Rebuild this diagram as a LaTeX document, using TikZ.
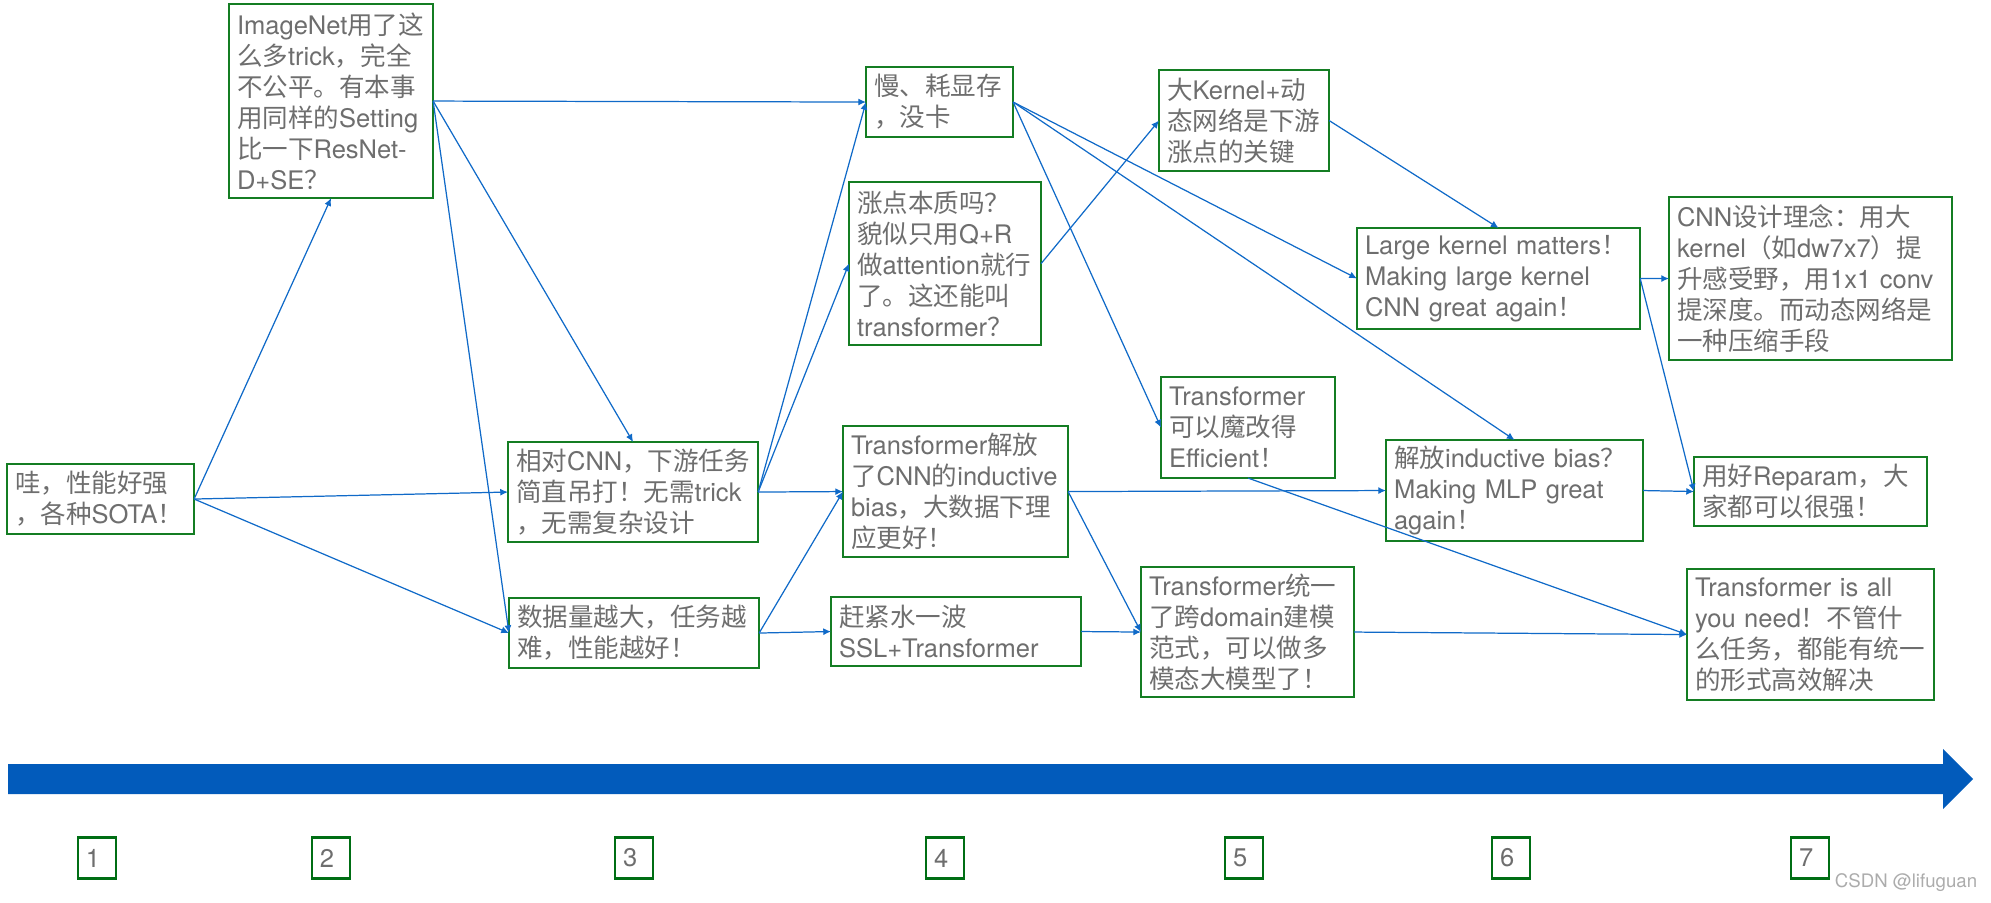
\documentclass[tikz,border=0pt]{standalone}
\usepackage{fontspec}
\setmainfont{TeX Gyre Heros}
\newfontfamily\latinfont{TeX Gyre Heros}
\newfontfamily\cjkfont{Noto Sans CJK SC}
\usetikzlibrary{arrows.meta}

\definecolor{linkblue}{RGB}{16,106,200}
\definecolor{boxgreen}{RGB}{20,125,35}
\definecolor{stagegreen}{RGB}{0,110,20}
\definecolor{txtgray}{RGB}{110,110,110}
\definecolor{barblue}{RGB}{2,91,187}

% Chinese characters and full-width punctuation go to the CJK font
\XeTeXinterchartokenstate=1
\newXeTeXintercharclass\cjkclass
\newcount\cjkchar
\def\cjkrange#1#2{%
  \cjkchar=#1\relax
  \loop
    \XeTeXcharclass\cjkchar=\cjkclass
    \ifnum\cjkchar<#2\relax
    \advance\cjkchar by 1
  \repeat}
\cjkrange{"3000}{"303F}
\cjkrange{"4E00}{"9FFF}
\cjkrange{"FF00}{"FFEF}
\XeTeXinterchartoks 0 \cjkclass = {\cjkfont}
\XeTeXinterchartoks 4095 \cjkclass = {\cjkfont}
\XeTeXinterchartoks \cjkclass 0 = {\latinfont}
\XeTeXinterchartoks \cjkclass 4095 = {\latinfont}

\def\ideafont{\fontsize{7.26}{8.82}\selectfont\hyphenpenalty 10000\relax}

\begin{document}
\begin{tikzpicture}[x=0.01cm, y=-0.01cm,
  idea/.style={draw=boxgreen, line width=0.4pt, text=txtgray, anchor=north west,
    align=left, inner xsep=0.08cm, inner ysep=0pt, outer sep=0pt,
    font=\ideafont},
  link/.style={draw=linkblue, line width=0.35pt, -{Latex[length=2.2pt,width=2pt]}},
  stage/.style={draw=stagegreen, line width=0.75pt, text=txtgray, align=left,
    text width=0.22cm, inner xsep=0.08cm, inner ysep=0pt, minimum height=0.41cm,
    font=\ideafont}]

  \useasboundingbox (0,0) rectangle (1991,902);

  % ----------------------------------------------------------------
  % time line
  % ----------------------------------------------------------------
  \fill[barblue] (8,764) -- (1943,764) -- (1943,749) -- (1973,779)
    -- (1943,809) -- (1943,794) -- (8,794) -- cycle;

  \foreach \n/\x in {1/97, 2/331, 3/634, 4/945, 5/1244, 6/1511, 7/1810}{
    \node[stage] (stage\n) at (\x,858) {\n};
  }

  \node[text=gray!65, font=\fontsize{5.3}{6}\selectfont, inner sep=0pt] (mark)
    at (1906,883) {CSDN @lifuguan};

  % ----------------------------------------------------------------
  % ideas (stage 1 to 3)
  % ----------------------------------------------------------------
  \node[idea, text width=1.71cm, minimum height=0.70cm] (wow) at (7,464)
    {哇，性能好强\\，各种SOTA！};
  \node[idea, text width=1.88cm, minimum height=1.94cm] (imgnet) at (229,4)
    {ImageNet用了这\\么多trick，完全\\不公平。有本事\\用同样的Setting\\比一下ResNet-\\D+SE？};
  \node[idea, text width=2.34cm, minimum height=1.00cm] (cnnrel) at (508,442)
    {相对CNN，下游任务\\简直吊打！无需trick\\，无需复杂设计};
  \node[idea, text width=2.34cm, minimum height=0.70cm] (data) at (509,598)
    {数据量越大，任务越\\难，性能越好！};

  % ----------------------------------------------------------------
  % ideas (stage 4 and 5)
  % ----------------------------------------------------------------
  \node[idea, text width=1.31cm, minimum height=0.70cm] (slow) at (866,67)
    {慢、耗显存\\，没卡};
  \node[idea, text width=1.76cm, minimum height=1.63cm] (gain) at (849,182)
    {涨点本质吗？\\貌似只用Q+R\\做attention就行\\了。这还能叫\\transformer？};
  \node[idea, text width=2.09cm, minimum height=1.31cm] (freecnn) at (843,426)
    {Transformer解放\\了CNN的inductive\\bias，大数据下理\\应更好！};
  \node[idea, text width=2.34cm, minimum height=0.69cm] (ssl) at (831,597)
    {赶紧水一波\\SSL+Transformer};
  \node[idea, text width=1.54cm, minimum height=1.01cm] (kernel) at (1159,70)
    {大Kernel+动\\态网络是下游\\涨点的关键};
  \node[idea, text width=1.58cm, minimum height=1.01cm] (effic) at (1161,377)
    {Transformer\\可以魔改得\\Efficient！};
  \node[idea, text width=1.97cm, minimum height=1.30cm] (unify) at (1141,567)
    {Transformer统一\\了跨domain建模\\范式，可以做多\\模态大模型了！};

  % ----------------------------------------------------------------
  % ideas (stage 6 and 7)
  % ----------------------------------------------------------------
  \node[idea, text width=2.67cm, minimum height=1.01cm] (large) at (1357,228)
    {Large kernel matters！\\Making large kernel\\CNN great again！};
  \node[idea, text width=2.41cm, minimum height=1.01cm] (mlp) at (1386,440)
    {解放inductive bias？\\Making MLP great\\again！};
  \node[idea, text width=2.67cm, minimum height=1.63cm] (cnnidea) at (1669,197)
    {CNN设计理念：用大\\kernel（如dw7x7）提\\升感受野，用1x1 conv\\提深度。而动态网络是\\一种压缩手段};
  \node[idea, text width=2.17cm, minimum height=0.69cm] (reparam) at (1694,457)
    {用好Reparam，大\\家都可以很强！};
  \node[idea, text width=2.31cm, minimum height=1.31cm] (allneed) at (1687,569)
    {Transformer is all\\you need！不管什\\么任务，都能有统一\\的形式高效解决};

  % ----------------------------------------------------------------
  % links
  % ----------------------------------------------------------------
  \draw[link] (wow.east) -- (imgnet.south);
  \draw[link] (wow.east) -- (cnnrel.west);
  \draw[link] (wow.east) -- (data.west);

  \draw[link] (imgnet.east) -- (slow.west);
  \draw[link] (imgnet.east) -- (cnnrel.north);
  \draw[link] (imgnet.east) -- (data.west);

  \draw[link] (cnnrel.east) -- (slow.west);
  \draw[link] (cnnrel.east) -- (gain.west);
  \draw[link] (cnnrel.east) -- (freecnn.west);
  \draw[link] (data.east) -- (freecnn.west);
  \draw[link] (data.east) -- (ssl.west);

  \draw[link] (slow.east) -- (effic.west);
  \draw[link] (slow.east) -- (large.west);
  \draw[link] (slow.east) -- (mlp.north);
  \draw[link] (gain.east) -- (kernel.west);
  \draw[link] (kernel.east) -- (large.north);
  \draw[link] (freecnn.east) -- (mlp.west);
  \draw[link] (freecnn.east) -- (unify.west);
  \draw[link] (ssl.east) -- (unify.west);

  \draw[link] (effic.south) -- (allneed.west);
  \draw[link] (unify.east) -- (allneed.west);
  \draw[link] (large.east) -- (cnnidea.west);
  \draw[link] (large.east) -- (reparam.west);
  \draw[link] (mlp.east) -- (reparam.west);

\end{tikzpicture}
\end{document}
